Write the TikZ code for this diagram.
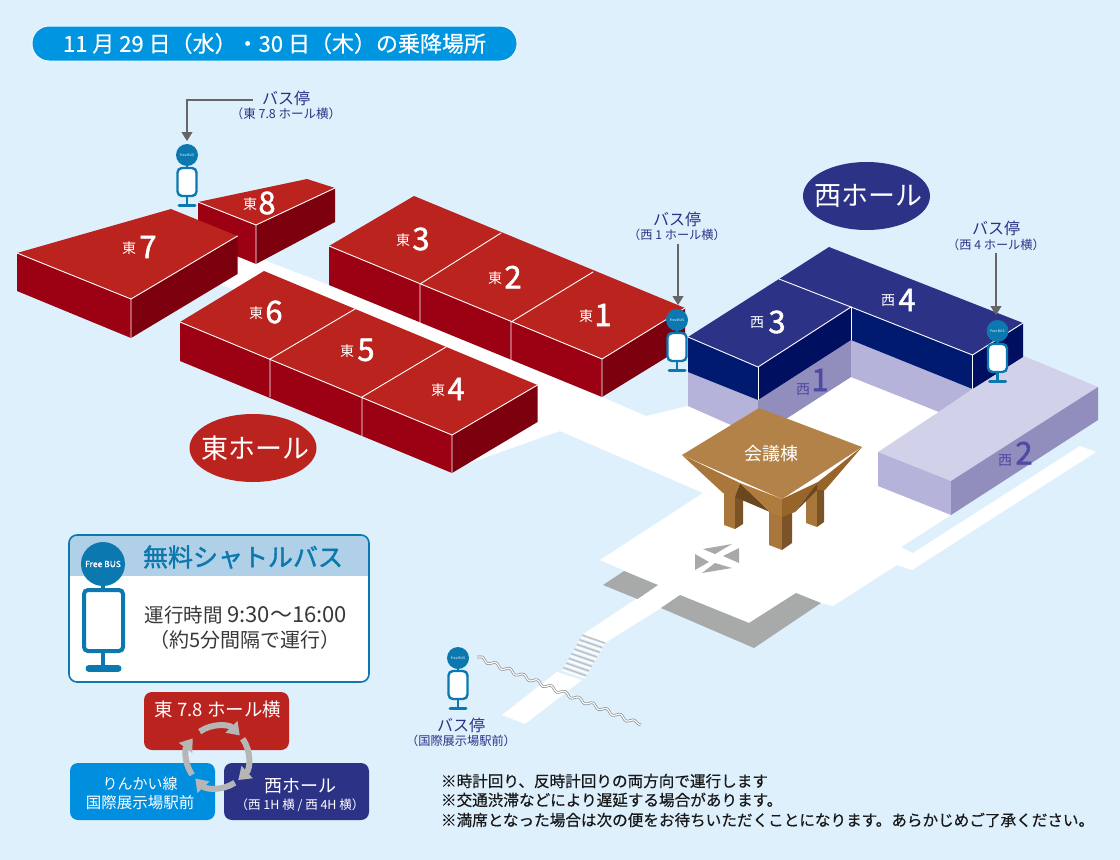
\documentclass[tikz,border=0pt]{standalone}
\usepackage{fontspec}
\setmainfont{Noto Sans CJK JP}
\newfontfamily\med[FakeBold=1.6]{Noto Sans CJK JP}
\newfontfamily\semi[FakeBold=0.5]{Noto Sans CJK JP}
\usetikzlibrary{arrows.meta,decorations.pathmorphing,shapes.geometric}
\definecolor{bg}{HTML}{DFF0FD}
\definecolor{etop}{HTML}{BB231E}
\definecolor{eleft}{HTML}{9C0013}
\definecolor{eright}{HTML}{7D000E}
\definecolor{wtop}{HTML}{2C3285}
\definecolor{wleft}{HTML}{001A70}
\definecolor{wright}{HTML}{000F5F}
\definecolor{lavtop}{HTML}{D2D1EA}
\definecolor{lavleft}{HTML}{B6B3DA}
\definecolor{lavright}{HTML}{918DBD}
\definecolor{lavtext}{HTML}{4F4AA2}
\definecolor{stopblue}{HTML}{0B78B0}
\definecolor{headblue}{HTML}{0095E0}
\definecolor{pale}{HTML}{AFD0E6}
\definecolor{cblue}{HTML}{008EDE}
\definecolor{road}{HTML}{A8A9A9}
\definecolor{arrowgray}{HTML}{666666}
\definecolor{cycgray}{HTML}{B6B6B6}
\definecolor{kaitop}{HTML}{B38248}
\definecolor{kaileft}{HTML}{A9773B}
\definecolor{kairight}{HTML}{976429}
\definecolor{kaifront}{HTML}{B07C3E}
\definecolor{kaidark}{HTML}{6B471F}
\definecolor{legdark}{HTML}{7A5326}
\newcommand{\fs}[1]{\fontsize{#1}{#1}\selectfont}
\tikzset{
  x=1pt,y=-1pt,
  edgeline/.style={draw=white,line width=0.9pt,line cap=round},
  txt/.style={inner sep=0pt,outer sep=0pt,align=center},
  hall/.style={ellipse,minimum width=127pt,minimum height=68pt,inner sep=0pt},
  pointer/.style={draw=arrowgray,line width=1.1pt,-{Triangle[length=9pt,width=11pt]}},
  stoplabel/.style={txt,text=wtop},
  cyc/.style={draw=cycgray,line width=6pt,-{Triangle[length=12pt,width=16pt]}},
  legendbox/.style={rounded corners=8pt,text=white},
}
% name, x, y
\newcommand{\bstop}[3]{%
  \begin{scope}[shift={(#2,#3)}]
    \draw[stopblue,line width=2.2pt] (0,8)--(0,14);
    \draw[stopblue,line width=2.4pt,fill=white,rounded corners=4.5pt] (-9.5,13) rectangle (9.5,41);
    \draw[stopblue,line width=2.2pt] (0,41)--(0,49);
    \draw[stopblue,line width=3pt,line cap=round] (-8,50)--(8,50);
    \node[circle,fill=stopblue,minimum size=22pt,inner sep=0pt,text=white] (#1) at (0,0) {\fs{3.4}Free BUS};
  \end{scope}}
\newcommand{\hallnum}[7]{%
  \node[txt,text=#7] (#1k) at (#2,#3) {\fs{14}#4};
  \node[txt,text=#7] (#1n) at (#5,#3-1) {\fs{31}\med #6};}
\begin{document}
\begin{tikzpicture}
\fill[bg] (0,0) rectangle (1120,860);
\useasboundingbox (0,0) rectangle (1120,860);
% ground
\fill[white] (215,283)--(240,258)--(264,260)--(329,285)--(602,397)--(646,416)--(688,406)--(851,370)--(960,410)--(951,515)--(901,547)--(913,553)--(1080,446)--(1096,452)--(912,570)--(897,565)--(833,606)--(821,603)--(796,593)--(749,623)--(680,595)--(661,608)--(605,643)--(582,635)--(657,585)--(600,560)--(703,493)--(560,431)--(450,470)--(236,290)--cycle;
% roads
\fill[road] (603,585)--(624,571)--(658,585)--(637.5,599)--cycle;
\fill[road] (661,608)--(680,595)--(749,623)--(796,593)--(821,603)--(754,648)--cycle;
% station path + stairs
\fill[white] (557,672)--(582,680)--(525,724)--(502,715)--cycle;
\foreach \t in {0,...,7}{
  \draw[black!25,line width=1.4pt] ({582-20*\t/7.5},{635+35*\t/7.5})--({605-20*\t/7.5},{643+35*\t/7.5});
  \draw[white,line width=1.4pt] ({581-20*\t/7.5},{637.3+35*\t/7.5})--({604-20*\t/7.5},{645.3+35*\t/7.5});
}
% X mark
\fill[road] (703,549)--(732,544)--(715,554)--cycle;
\fill[road] (739,548)--(739,563)--(723,556)--cycle;
\fill[road] (702,573)--(715,563)--(732,568)--cycle;
\fill[road] (695,554)--(695,570)--(709,562)--cycle;
% west lavender
\fill[lavleft] (688,372)--(758,400)--(758,437)--(688,406)--cycle;
\fill[lavright] (758,400)--(851,340)--(851,377)--(758,437)--cycle;
\fill[lavleft] (851,340)--(972.5,389)--(939,412)--(851,377)--cycle;
\fill[lavtop] (878,452)--(951,481)--(1098,387)--(1024,356)--(972,390)--cycle;
\fill[lavleft] (878,452)--(951,481)--(951,515)--(878,486)--cycle;
\fill[lavright] (951,481)--(1098,387)--(1098,420)--(951,515)--cycle;
% west halls
\fill[wtop] (688,337)--(779,279)--(829,247)--(1023,323)--(972.5,355)--(851,307)--(758,367)--cycle;
\fill[wleft] (688,337)--(758,367)--(758,400)--(688,372)--cycle;
\fill[wright] (758,367)--(851,307)--(851,340)--(758,400)--cycle;
\fill[wleft] (851,307)--(972.5,355)--(972.5,389)--(851,340)--cycle;
\fill[wright] (972.5,355)--(1023,323)--(1023,357)--(972.5,389)--cycle;
\draw[edgeline] (688,337)--(758,367)--(851,307);
\draw[edgeline] (779,279)--(851,307)--(972.5,355)--(1023,323);
\draw[edgeline] (758,367)--(758,400) (851,307)--(851,340) (972.5,355)--(972.5,389);
% east 8
\fill[etop] (198,202)--(307,179)--(335,188)--(256,225)--cycle;
\fill[eleft] (198,202)--(256,225)--(256,264)--(198,240)--cycle;
\fill[eright] (256,225)--(335,188)--(335,222)--(256,264)--cycle;
\draw[edgeline] (198,202)--(256,225)--(335,188) (256,225)--(256,264);
% east 7
\fill[etop] (17,253)--(171,209)--(237.5,236)--(131,299)--cycle;
\fill[eleft] (17,253)--(131,299)--(131,338)--(17,291)--cycle;
\fill[eright] (131,299)--(237.5,236)--(237.5,274)--(131,338)--cycle;
\draw[edgeline] (17,253)--(131,299)--(237.5,236) (131,299)--(131,338);
% east 3-2-1
\fill[etop] (329,246)--(414,196)--(685,308)--(602,359)--cycle;
\fill[eleft] (329,246)--(602,359)--(602,397)--(329,285)--cycle;
\fill[eright] (602,359)--(685,308)--(685,346)--(602,397)--cycle;
\draw[edgeline] (329,246)--(602,359)--(685,308) (501,233)--(420,284)--(420,323) (593,272)--(511,322)--(511,360) (602,359)--(602,397);
% east 6-5-4
\fill[etop] (180,322)--(264,271)--(537.5,385)--(452,435)--cycle;
\fill[eleft] (180,322)--(452,435)--(452,473)--(180,361)--cycle;
\fill[eright] (452,435)--(537.5,385)--(537.5,422)--(452,473)--cycle;
\draw[edgeline] (180,322)--(452,435)--(537.5,385) (355,309)--(270,359)--(270,397) (446,347)--(362,397)--(362,436) (452,435)--(452,473);
% conference building legs
\fill[kaileft] (724,490)--(724,525)--(735,529)--(735,490)--cycle;
\fill[legdark] (735,490)--(743,490)--(743,524)--(735,529)--cycle;
\fill[kaileft] (806,490)--(806,523)--(817,527)--(817,485)--cycle;
\fill[legdark] (817,485)--(824,485)--(824,522)--(817,527)--cycle;
\fill[kaileft] (769,505)--(769,545)--(782,550)--(782,510)--cycle;
\fill[legdark] (782,510)--(792,505)--(792,543)--(782,550)--cycle;
% funnel
\fill[kaidark] (740,483)--(735,497)--(770,512)--cycle;
\fill[kaidark] (818,482)--(817,490)--(795,512)--cycle;
\fill[kaileft] (682,455)--(740,483)--(735,497)--(723,493)--cycle;
\fill[kaifront] (740,483)--(782,499)--(782,517)--(770,512)--cycle;
\fill[kairight] (818,482)--(782,499)--(782,517)--(795,512)--cycle;
\fill[kairight] (862,447)--(818,482)--(817,490)--(825,490)--cycle;
\fill[kaitop] (759,408)--(862,447)--(782,499)--(682,455)--cycle;
\node[txt,text=white] (kaigi) at (771,454) {\fs{18}会議棟};
% wave
\coordinate (w1) at (477,657);\coordinate (w2) at (641,725);
\draw[black!45,line width=2.6pt,decorate,decoration={snake,amplitude=2pt,segment length=15pt}] (w1)--(w2);
\draw[white,line width=1.2pt,decorate,decoration={snake,amplitude=2pt,segment length=15pt}] (w1)--(w2);
% hall labels
\hallnum{h7}{129}{248}{東}{148}{7}{white}
\hallnum{h8}{250}{204}{東}{267}{8}{white}
\hallnum{h3}{403}{240}{東}{421}{3}{white}
\hallnum{h2}{495}{278}{東}{513}{2}{white}
\hallnum{h1}{586}{316}{東}{603}{1}{white}
\hallnum{h6}{256}{313}{東}{274}{6}{white}
\hallnum{h5}{347}{351}{東}{366}{5}{white}
\hallnum{h4}{438}{390}{東}{456}{4}{white}
\hallnum{w3}{757}{323}{西}{777}{3}{white}
\hallnum{w4}{888}{301}{西}{907}{4}{white}
\node[txt,text=lavtext] (w1k) at (803,390) {\fs{14}西};
\node[txt,text=lavtext] (w1n) at (820,380) {\fs{31}\med 1};
\node[txt,text=lavtext] (w2k) at (1005,461) {\fs{14}西};
\node[txt,text=lavtext] (w2n) at (1024,453) {\fs{31}\med 2};
% hall ovals
\node[hall,fill=etop] (east) at (253,448) {};
\node[txt,text=white] (eastt) at (255.5,448) {\fs{27}東ホール};
\node[hall,fill=wtop] (west) at (866.5,196) {};
\node[txt,text=white] (westt) at (868.5,196) {\fs{27}西ホール};
% bus stops
\bstop{s78}{187}{155}
\bstop{sw1}{677}{320}
\bstop{sw4}{997.5}{331}
\bstop{sst}{458}{658}
% stop labels
\node[stoplabel] (l78) at (286,98) {\fs{16}バス停};
\node[stoplabel] (l78b) at (286,114) {\fs{12.5}（東 7.8 ホール横）};
\node[stoplabel] (lw1) at (677,219) {\fs{16}バス停};
\node[stoplabel] (lw1b) at (677,235) {\fs{12.2}（西 1 ホール横）};
\node[stoplabel] (lw4) at (996,228) {\fs{16}バス停};
\node[stoplabel] (lw4b) at (996,245) {\fs{12.2}（西 4 ホール横）};
\node[stoplabel] (lst) at (461,725) {\fs{16}バス停};
\node[stoplabel] (lstb) at (461,741) {\fs{12.2}（国際展示場駅前）};
\coordinate (p78) at (253,100);\coordinate (t78) at (187,141);
\coordinate (pw1) at (678,244);\coordinate (tw1) at (678,305);
\coordinate (pw4) at (996,253);\coordinate (tw4) at (996,315);
\draw[pointer] (p78)-|(t78);
\draw[pointer] (pw1)--(tw1);
\draw[pointer] (pw4)--(tw4);
% header
\node[fill=headblue,draw=white!60!bg,line width=1pt,rounded corners=17pt,minimum width=485pt,minimum height=35pt,text=white,inner sep=0pt] (head) at (274.5,43.5) {\fs{22}\semi 11 月 29 日（水）・30 日（木）の乗降場所};
% legend box
\fill[white,rounded corners=8pt] (69,535) rectangle (369,682);
\begin{scope}
\clip[rounded corners=8pt] (69,535) rectangle (369,682);
\fill[pale] (69,535) rectangle (369,576);
\end{scope}
\draw[stopblue,line width=1.6pt,rounded corners=8pt] (69,535) rectangle (369,682);
\node[txt,text=stopblue] (ltitle) at (243,557) {\fs{25}\med 無料シャトルバス};
\draw[stopblue,line width=4pt] (103,580)--(103,590);
\draw[stopblue,line width=4pt,fill=white,rounded corners=4pt] (84,590) rectangle (123,651);
\draw[stopblue,line width=4pt] (103,651)--(103,668);
\draw[stopblue,line width=7pt,line cap=round] (89,668.5)--(118,668.5);
\node[circle,fill=stopblue,minimum size=44pt,inner sep=0pt,text=white] (licon) at (103,564) {\fs{8.5}\semi Free BUS};
\node[txt,text=black!78] (lt1) at (246,615) {\fs{19.5}運行時間 \fs{22}9:30〜16:00};
\node[txt,text=black!78] (lt2) at (245,640) {\fs{20}（約5分間隔で運行）};
% route boxes
\node[legendbox,fill=etop,minimum width=145pt,minimum height=58pt] (rbox) at (216.5,721) {};
\node[txt,text=white] (rtxt) at (218,709) {\fs{18.5}東 7.8 ホール横};
\node[legendbox,fill=cblue,minimum width=145pt,minimum height=57pt,align=center] (bbox) at (142.5,791.5) {};
\node[txt,text=white] (btxt1) at (140,784) {\fs{15}りんかい線};
\node[txt,text=white] (btxt2) at (140,803) {\fs{15.5}国際展示場駅前};
\node[legendbox,fill=wtop,minimum width=145pt,minimum height=57pt] (nbox) at (296.5,791.5) {};
\node[txt,text=white] (ntxt1) at (300,786) {\fs{18}西ホール};
\node[txt,text=white] (ntxt2) at (300,805) {\fs{12.5}（西 1H 横 / 西 4H 横）};
% cycle arrows
\begin{scope}[shift={(217.5,757)},y=1pt]
\draw[cyc] (125:31) arc (125:44:31);
\draw[cyc] (36:31) arc (36:-48:31);
\draw[cyc] (-56:31) arc (-56:-136:31);
\draw[cyc] (-145:31) arc (-145:-217:31);
\end{scope}
% notes
\node[txt,anchor=west,text=black!90] (n1) at (441,781) {\fs{15.6}\semi ※時計回り、反時計回りの両方向で運行します};
\node[txt,anchor=west,text=black!90] (n2) at (441,800) {\fs{15.6}\semi ※交通渋滞などにより遅延する場合があります。};
\node[txt,anchor=west,text=black!90] (n3) at (441,820) {\fs{15.6}\semi ※満席となった場合は次の便をお待ちいただくことになります。あらかじめご了承ください。};
\end{tikzpicture}
\end{document}
